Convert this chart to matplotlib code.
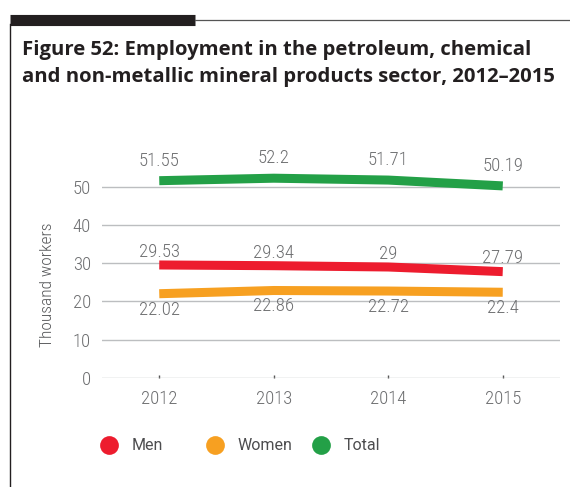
import matplotlib
matplotlib.use("Agg")
import matplotlib.pyplot as plt
from matplotlib.lines import Line2D

years = ["2012", "2013", "2014", "2015"]
men = [29.53, 29.34, 29.0, 27.79]
women = [22.02, 22.86, 22.72, 22.4]
total = [51.55, 52.2, 51.71, 50.19]
series_names = ["Men", "Women", "Total"]

c_men = "#ED1C2E"
c_women = "#F7A021"
c_total = "#23A047"
grey_txt = "#6d6e70"
narrow = ["Roboto Condensed", "DejaVu Sans"]
title_font = ["Open Sans", "DejaVu Sans"]

fig = plt.figure(figsize=(5.7, 4.87), dpi=100)
W, H = 570, 487

# frame decoration: thick bar, thin top line, left line
fig.add_artist(Line2D([10 / W, 195 / W], [1 - 19.5 / H, 1 - 19.5 / H], color="#231f20", lw=8, solid_capstyle="butt"))
fig.add_artist(Line2D([195 / W, 1], [1 - 20 / H, 1 - 20 / H], color="#555555", lw=0.9))
fig.add_artist(Line2D([10.5 / W, 10.5 / W], [0, 1 - 24 / H], color="#231f20", lw=1.0))

fig.text(22 / W, 1 - 50 / H, "Figure 52: Employment in the petroleum, chemical", fontsize=14.6,
         fontweight="bold", family=title_font, color="#231f20", va="center")
fig.text(22 / W, 1 - 77 / H, "and non-metallic mineral products sector, 2012\u20132015", fontsize=14.6,
         fontweight="bold", family=title_font, color="#231f20", va="center")

ax = fig.add_axes([102 / W, 1 - 378 / H, (560 - 102) / W, (378 - 156) / H])
x = range(len(years))
for vals, col in [(women, c_women), (men, c_men), (total, c_total)]:
    ax.plot(x, vals, color=col, lw=6.5, solid_capstyle="butt", solid_joinstyle="round", zorder=3)

lab_kw = dict(textcoords="offset points", ha="center", fontsize=13.5, family=narrow,
              fontweight="light", color=grey_txt)
for i in x:
    ax.annotate(f"{total[i]:g}", (i, total[i]), xytext=(0, 8), va="bottom", **lab_kw)
    ax.annotate(f"{men[i]:g}", (i, men[i]), xytext=(0, 3), va="bottom", **lab_kw)
    ax.annotate(f"{women[i]:g}", (i, women[i]), xytext=(0, -5), va="top", **lab_kw)

ax.set_xlim(-0.5, 3.5)
ax.set_ylim(0, 58)
ax.set_yticks([0, 10, 20, 30, 40, 50])
ax.set_xticks(list(x))
ax.set_xticklabels(years)
ax.grid(axis="y", color="#bcbec0", lw=1.0, zorder=0)
for s in ax.spines.values():
    s.set_visible(False)
ax.tick_params(axis="y", length=0, pad=8, labelsize=13.5, labelcolor=grey_txt)
ax.tick_params(axis="x", length=2, width=1, color="#555555", direction="in", pad=9,
               labelsize=13.5, labelcolor=grey_txt)
for lab in ax.get_xticklabels() + ax.get_yticklabels():
    lab.set_family(narrow)
    lab.set_fontweight("light")

fig.text(47 / W, 1 - 285 / H, "Thousand workers", rotation=90, ha="center", va="center",
         fontsize=12.5, family=narrow, fontweight="light", color="#58595b")

# legend: evenly spaced circles with labels
for k, (name, col) in enumerate(zip(series_names, (c_men, c_women, c_total))):
    cx = (109 + 106 * k) / W
    fig.add_artist(Line2D([cx], [1 - 445 / H], marker="o", ms=13.5, color=col, mec="none", ls="none"))
    fig.text(cx + 23 / W, 1 - 445 / H, name, ha="left", va="center", fontsize=11.5,
             family=["Roboto", "DejaVu Sans"], color="#4d4d4f")

fig.savefig("out.png", dpi=100)
